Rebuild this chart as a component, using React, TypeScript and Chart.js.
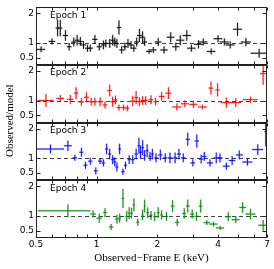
import { useEffect, useRef } from 'react';
import { Chart, registerables } from 'chart.js';

Chart.register(...registerables);

// ---- axes / labels ----
const xTickValues = [0.5, 0.6, 0.7, 0.8, 0.9, 1, 2, 3, 4, 5, 6, 7];
const xTickLabels = ['0.5', '', '', '', '', '1', '2', '', '4', '', '', '7'];
const yTickValues = [0.5, 1, 2];
const yTickLabels = ['0.5', '1', '2'];
const panelLabels = ['Epoch 1', 'Epoch 2', 'Epoch 3', 'Epoch 4'];
const panelColors = ['#000000', '#ff0000', '#0000ff', '#008800'];
const haloColors = ['rgba(0,0,0,0.2)', 'rgba(255,0,0,0.22)', 'rgba(0,0,255,0.22)', 'rgba(0,136,0,0.25)'];
const xTitle = 'Observed\u2212Frame E (keV)';
const yTitle = 'Observed/model';

// ---- Epoch 1 ----
const epoch1E = [0.53, 0.60, 0.64, 0.66, 0.70, 0.73, 0.77, 0.80, 0.83, 0.86, 0.90, 0.93, 0.98, 1.03, 1.08, 1.11, 1.16, 1.20, 1.23, 1.26, 1.29, 1.33, 1.38, 1.43, 1.48, 1.53, 1.58, 1.63, 1.69, 1.73, 1.82, 1.91, 2.02, 2.16, 2.33, 2.47, 2.60, 2.80, 2.95, 3.20, 3.38, 3.70, 4.00, 4.30, 4.60, 5.00, 5.50, 6.40];
const epoch1EErr = [0.025, 0.023, 0.015, 0.015, 0.02, 0.02, 0.022, 0.022, 0.022, 0.025, 0.025, 0.027, 0.03, 0.03, 0.03, 0.03, 0.03, 0.03, 0.03, 0.03, 0.03, 0.035, 0.035, 0.04, 0.04, 0.045, 0.045, 0.045, 0.05, 0.05, 0.06, 0.07, 0.08, 0.09, 0.1, 0.1, 0.12, 0.13, 0.14, 0.16, 0.16, 0.18, 0.2, 0.22, 0.23, 0.26, 0.31, 0.6];
const epoch1Ratio = [0.78, 1.05, 1.5, 1.5, 1.25, 0.87, 1.03, 1.09, 1.05, 0.93, 0.82, 0.82, 1.12, 0.87, 0.93, 0.98, 0.98, 1.09, 1.03, 0.98, 1.52, 0.76, 0.87, 0.98, 0.93, 0.82, 1.03, 1.25, 1.19, 1.03, 0.71, 0.76, 1.03, 0.76, 1.19, 0.87, 1.09, 1.25, 0.82, 0.95, 1.03, 0.71, 1.14, 1.03, 0.93, 1.46, 1.03, 0.65];
const epoch1RatioErr = [0.1, 0.1, 0.28, 0.28, 0.18, 0.13, 0.15, 0.18, 0.15, 0.13, 0.12, 0.12, 0.15, 0.13, 0.15, 0.13, 0.15, 0.18, 0.15, 0.15, 0.24, 0.12, 0.13, 0.15, 0.13, 0.12, 0.15, 0.22, 0.2, 0.13, 0.08, 0.1, 0.14, 0.12, 0.17, 0.14, 0.17, 0.18, 0.12, 0.14, 0.12, 0.1, 0.12, 0.12, 0.12, 0.22, 0.14, 0.15];

// ---- Epoch 2 ----
const epoch2E = [0.56, 0.66, 0.74, 0.79, 0.84, 0.89, 0.94, 0.98, 1.04, 1.10, 1.16, 1.20, 1.24, 1.29, 1.36, 1.42, 1.51, 1.57, 1.63, 1.69, 1.75, 1.86, 1.96, 2.10, 2.27, 2.50, 2.74, 3.02, 3.35, 3.69, 3.98, 4.40, 4.90, 5.80, 6.70];
const epoch2EErr = [0.05, 0.03, 0.025, 0.02, 0.025, 0.025, 0.027, 0.028, 0.03, 0.03, 0.03, 0.03, 0.03, 0.035, 0.035, 0.035, 0.04, 0.035, 0.04, 0.04, 0.04, 0.05, 0.05, 0.07, 0.08, 0.13, 0.13, 0.14, 0.17, 0.1, 0.1, 0.28, 0.31, 0.5, 0.23];
const epoch2Ratio = [1.0, 1.07, 1.04, 1.25, 0.95, 1.11, 0.96, 0.96, 0.96, 0.85, 1.34, 0.96, 1.02, 0.76, 0.76, 0.74, 0.98, 1.1, 0.96, 1.0, 1.0, 1.03, 0.96, 1.14, 1.25, 0.78, 0.89, 0.87, 0.78, 1.42, 1.36, 0.93, 0.93, 1.03, 1.91];
const epoch2RatioErr = [0.22, 0.12, 0.15, 0.2, 0.13, 0.17, 0.13, 0.13, 0.15, 0.12, 0.2, 0.17, 0.15, 0.1, 0.1, 0.1, 0.17, 0.22, 0.15, 0.15, 0.15, 0.15, 0.12, 0.15, 0.2, 0.12, 0.12, 0.12, 0.08, 0.22, 0.22, 0.17, 0.15, 0.1, 0.38];

// ---- Epoch 3 ----
const epoch3E = [0.59, 0.72, 0.78, 0.84, 0.88, 0.93, 0.99, 1.04, 1.08, 1.12, 1.16, 1.20, 1.23, 1.26, 1.30, 1.35, 1.39, 1.45, 1.51, 1.57, 1.62, 1.65, 1.69, 1.73, 1.78, 1.84, 1.89, 1.97, 2.07, 2.19, 2.31, 2.45, 2.56, 2.69, 2.83, 3.00, 3.14, 3.30, 3.42, 3.65, 3.92, 4.09, 4.40, 4.70, 5.10, 5.60, 6.30, 6.90];
const epoch3EErr = [0.1, 0.033, 0.02, 0.02, 0.02, 0.022, 0.022, 0.024, 0.02, 0.02, 0.02, 0.02, 0.02, 0.02, 0.02, 0.025, 0.025, 0.025, 0.03, 0.03, 0.025, 0.025, 0.025, 0.025, 0.03, 0.03, 0.03, 0.04, 0.05, 0.05, 0.06, 0.06, 0.06, 0.07, 0.07, 0.08, 0.08, 0.09, 0.09, 0.13, 0.12, 0.12, 0.17, 0.18, 0.19, 0.32, 0.4, 0.1];
const epoch3Ratio = [1.31, 1.42, 1.01, 1.2, 0.76, 0.9, 0.57, 0.9, 0.84, 1.31, 1.14, 0.95, 0.87, 0.7, 1.31, 0.54, 0.76, 0.95, 0.95, 1.14, 1.42, 1.2, 1.36, 1.09, 1.25, 1.06, 1.14, 1.01, 1.11, 1.01, 1.01, 1.01, 1.14, 1.01, 1.64, 0.84, 1.58, 0.97, 1.06, 0.84, 1.01, 1.01, 0.73, 0.92, 1.11, 0.87, 1.29, 1.9];
const epoch3RatioErr = [0.15, 0.18, 0.1, 0.15, 0.12, 0.12, 0.12, 0.1, 0.12, 0.18, 0.18, 0.15, 0.15, 0.15, 0.18, 0.1, 0.12, 0.15, 0.15, 0.18, 0.27, 0.22, 0.25, 0.18, 0.22, 0.15, 0.18, 0.15, 0.18, 0.15, 0.18, 0.18, 0.18, 0.15, 0.22, 0.12, 0.22, 0.15, 0.15, 0.12, 0.18, 0.15, 0.12, 0.15, 0.15, 0.12, 0.18, 0.5];

// ---- Epoch 4 ----
const epoch4E = [0.72, 0.96, 1.03, 1.10, 1.18, 1.26, 1.30, 1.35, 1.41, 1.45, 1.49, 1.53, 1.60, 1.69, 1.73, 1.79, 1.86, 1.94, 2.02, 2.10, 2.22, 2.38, 2.51, 2.72, 2.83, 2.98, 3.13, 3.28, 3.52, 3.80, 4.10, 4.50, 4.90, 5.30, 5.80, 6.70];
const epoch4EErr = [0.21, 0.03, 0.03, 0.025, 0.03, 0.025, 0.02, 0.02, 0.02, 0.02, 0.02, 0.02, 0.025, 0.02, 0.02, 0.025, 0.03, 0.03, 0.03, 0.03, 0.04, 0.05, 0.06, 0.06, 0.06, 0.07, 0.07, 0.07, 0.13, 0.17, 0.19, 0.15, 0.22, 0.2, 0.33, 0.36];
const epoch4Ratio = [1.17, 1.06, 0.92, 1.11, 0.62, 0.89, 0.92, 1.59, 0.98, 1.09, 1.09, 1.37, 0.78, 1.03, 1.33, 1.11, 1.01, 0.97, 1.11, 1.03, 0.98, 1.33, 0.78, 1.08, 1.33, 1.06, 0.98, 1.33, 0.77, 0.72, 0.59, 0.97, 0.87, 1.28, 1.06, 0.68];
const epoch4RatioErr = [0.22, 0.12, 0.15, 0.15, 0.1, 0.15, 0.15, 0.32, 0.18, 0.2, 0.18, 0.22, 0.12, 0.18, 0.22, 0.18, 0.15, 0.15, 0.18, 0.15, 0.15, 0.2, 0.12, 0.18, 0.22, 0.15, 0.15, 0.22, 0.08, 0.08, 0.07, 0.15, 0.12, 0.18, 0.18, 0.18];

const panelIds = ['p1', 'p2', 'p3', 'p4'];
const seriesE = [epoch1E, epoch2E, epoch3E, epoch4E];
const seriesEErr = [epoch1EErr, epoch2EErr, epoch3EErr, epoch4EErr];
const seriesRatio = [epoch1Ratio, epoch2Ratio, epoch3Ratio, epoch4Ratio];
const seriesRatioErr = [epoch1RatioErr, epoch2RatioErr, epoch3RatioErr, epoch4RatioErr];

const Y_MIN = 0.25;
const Y_MAX = 2.2;
const SANS = '"DejaVu Sans", sans-serif';
const SERIF = '"Liberation Serif", "Times New Roman", serif';

const errorBarPlugin = {
  id: 'errorBars',
  afterDatasetsDraw(chart: any) {
    const ctx = chart.ctx;
    const xs = chart.scales.x;
    chart.data.datasets.forEach((ds: any) => {
      const ys = chart.scales[ds.yAxisID];
      ctx.save();
      ctx.beginPath();
      ctx.rect(xs.left, ys.top, xs.right - xs.left, ys.bottom - ys.top);
      ctx.clip();
      const passes = [
        { color: ds.haloColor, width: 2 },
        { color: ds.barColor, width: 0.9 },
      ];
      passes.forEach((pass) => {
        ctx.strokeStyle = pass.color;
        ctx.lineWidth = pass.width;
        ctx.beginPath();
        ds.data.forEach((p: any, i: number) => {
          const xc = xs.getPixelForValue(p.x);
          const xa = xs.getPixelForValue(Math.max(p.x - ds.xErr[i], 0.3));
          const xb = xs.getPixelForValue(p.x + ds.xErr[i]);
          const yc = ys.getPixelForValue(p.y);
          const ya = ys.getPixelForValue(p.y - ds.yErr[i]);
          const yb = ys.getPixelForValue(p.y + ds.yErr[i]);
          ctx.moveTo(xa, yc);
          ctx.lineTo(xb, yc);
          ctx.moveTo(xc, ya);
          ctx.lineTo(xc, yb);
        });
        ctx.stroke();
      });
      ctx.restore();
    });
  },
};

const framePlugin = {
  id: 'frames',
  beforeDatasetsDraw(chart: any) {
    const ctx = chart.ctx;
    const xs = chart.scales.x;
    ctx.save();
    panelIds.forEach((id) => {
      const ys = chart.scales[id];
      const y = Math.round(ys.getPixelForValue(1)) + 0.5;
      ctx.strokeStyle = '#444444';
      ctx.lineWidth = 1;
      ctx.setLineDash([4, 3]);
      ctx.beginPath();
      ctx.moveTo(xs.left, y);
      ctx.lineTo(xs.right, y);
      ctx.stroke();
    });
    ctx.restore();
  },
  afterDraw(chart: any) {
    const ctx = chart.ctx;
    const xs = chart.scales.x;
    ctx.save();
    panelIds.forEach((id, k) => {
      const ys = chart.scales[id];
      const L = Math.round(xs.left) + 0.5;
      const R = Math.round(xs.right) - 0.5;
      const T = Math.round(ys.top) + 0.5;
      const B = Math.round(ys.bottom) - 0.5;
      ctx.strokeStyle = '#222222';
      ctx.lineWidth = 1;
      ctx.setLineDash([]);
      ctx.strokeRect(L, T, R - L, B - T);
      ctx.beginPath();
      xTickValues.forEach((v) => {
        const x = Math.round(xs.getPixelForValue(v)) + 0.5;
        ctx.moveTo(x, T);
        ctx.lineTo(x, T + 3);
        ctx.moveTo(x, B);
        ctx.lineTo(x, B - 3);
      });
      yTickValues.forEach((v) => {
        const y = Math.round(ys.getPixelForValue(v)) + 0.5;
        ctx.moveTo(L, y);
        ctx.lineTo(L + 4, y);
        ctx.moveTo(R, y);
        ctx.lineTo(R - 4, y);
      });
      ctx.stroke();
      ctx.fillStyle = '#000000';
      ctx.font = `9px ${SANS}`;
      ctx.textAlign = 'left';
      ctx.textBaseline = 'alphabetic';
      ctx.fillText(panelLabels[k], xs.left + 14, ys.top + 10.3);
    });
    // axis titles
    ctx.fillStyle = '#000000';
    ctx.font = `11px ${SERIF}`;
    ctx.textAlign = 'center';
    ctx.textBaseline = 'middle';
    ctx.fillText(xTitle, (xs.left + xs.right) / 2, 258);
    const top = chart.scales.p1.top;
    const bottom = chart.scales.p4.bottom;
    ctx.translate(10.5, (top + bottom) / 2 - 2);
    ctx.rotate(-Math.PI / 2);
    ctx.fillText(yTitle, 0, 0);
    ctx.restore();
  },
};

function yAxis() {
  return {
    type: 'linear',
    position: 'left',
    stack: 'panels',
    stackWeight: 1,
    min: Y_MIN,
    max: Y_MAX,
    grid: { display: false, drawTicks: false },
    border: { display: false },
    afterBuildTicks: (s: any) => {
      s.ticks = yTickValues.map((v) => ({ value: v }));
    },
    afterFit: (s: any) => {
      s.width = 28;
    },
    ticks: {
      padding: 2,
      color: '#000000',
      font: { family: SANS, size: 9 },
      callback: (v: any) => {
        const i = yTickValues.indexOf(Number(v));
        return i >= 0 ? yTickLabels[i] : '';
      },
    },
  };
}

export default function App() {
  const canvasRef = useRef<HTMLCanvasElement | null>(null);

  useEffect(() => {
    document.body.style.margin = '0';
    const canvas = canvasRef.current;
    if (!canvas) return;
    const datasets = panelIds.map((id, k) => ({
      type: 'scatter',
      label: panelLabels[k],
      yAxisID: id,
      data: seriesE[k].map((e, i) => ({ x: e, y: seriesRatio[k][i] })),
      xErr: seriesEErr[k],
      yErr: seriesRatioErr[k],
      barColor: panelColors[k],
      haloColor: haloColors[k],
      pointRadius: 0,
      pointHoverRadius: 0,
      showLine: false,
    }));
    const chart = new Chart(canvas, {
      type: 'scatter',
      data: { datasets } as any,
      options: {
        responsive: false,
        animation: false,
        events: [],
        layout: { padding: { left: 8, right: 7, top: 3, bottom: 0 } },
        plugins: { legend: { display: false }, tooltip: { enabled: false } },
        scales: {
          x: {
            type: 'logarithmic',
            position: 'bottom',
            min: 0.5,
            max: 7,
            grid: { display: false, drawTicks: false },
            border: { display: false },
            afterBuildTicks: (s: any) => {
              s.ticks = xTickValues.map((v) => ({ value: v }));
            },
            afterFit: (s: any) => {
              s.height = 31;
            },
            ticks: {
              autoSkip: false,
              maxRotation: 0,
              minRotation: 0,
              padding: 1,
              color: '#000000',
              font: { family: SANS, size: 9 },
              callback: (v: any) => {
                const i = xTickValues.indexOf(Number(v));
                return i >= 0 ? xTickLabels[i] : '';
              },
            },
          },
          p4: yAxis(),
          p3: yAxis(),
          p2: yAxis(),
          p1: yAxis(),
        } as any,
      },
      plugins: [framePlugin, errorBarPlugin],
    } as any);
    return () => chart.destroy();
  }, []);

  return (
    <div style={{ width: 274, height: 269 }}>
      <canvas ref={canvasRef} width={274} height={269} style={{ display: 'block' }} />
    </div>
  );
}
